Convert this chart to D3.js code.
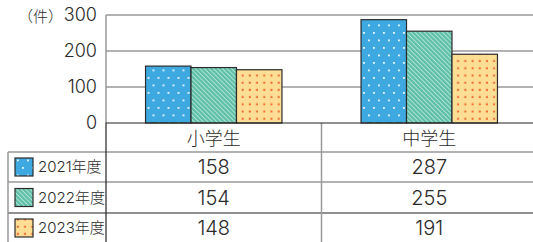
<!DOCTYPE html>
<html>
<head>
<meta charset="utf-8">
<script src="https://cdn.jsdelivr.net/npm/d3@7/dist/d3.min.js"></script>
<style>
body { margin: 0; background: #fff; }
svg { display: block; }
text { font-family: Inter, "Noto Sans CJK JP", sans-serif; font-weight: 300; fill: #2a2a2a; }
</style>
</head>
<body>
<svg width="533" height="242"></svg>
<script>
const categories = ["小学生", "中学生"];
const seriesNames = ["2021年度", "2022年度", "2023年度"];
const values2021 = [158, 287];
const values2022 = [154, 255];
const values2023 = [148, 191];
const yTicks = [0, 100, 200, 300];
const unitLabel = "（件）";

const seriesValues = [values2021, values2022, values2023];

const svg = d3.select("svg");
const width = 533;
const plotLeft = 106, plotTop = 15, plotBottom = 123;

const x = d3.scaleBand()
	.domain(categories)
	.range([plotLeft, 537])
	.paddingInner(0.367)
	.paddingOuter(0.1835);

const x1 = d3.scaleBand()
	.domain(seriesNames)
	.range([0, x.bandwidth()]);

const y = d3.scaleLinear()
	.domain([0, 300])
	.range([plotBottom, plotTop]);

// patterns
const defs = svg.append("defs");

const pBlue = defs.append("pattern")
	.attr("id", "p0")
	.attr("patternUnits", "userSpaceOnUse")
	.attr("width", 10).attr("height", 15);
pBlue.append("rect").attr("width", 10).attr("height", 15).attr("fill", "#3ea9e1");
pBlue.append("rect").attr("x", 2).attr("y", 2).attr("width", 1.8).attr("height", 1.8).attr("fill", "#eef8ff");
pBlue.append("rect").attr("x", 7).attr("y", 9.5).attr("width", 1.8).attr("height", 1.8).attr("fill", "#eef8ff");

const pGreen = defs.append("pattern")
	.attr("id", "p1")
	.attr("patternUnits", "userSpaceOnUse")
	.attr("width", 3.2).attr("height", 3.2)
	.attr("patternTransform", "rotate(45)");
pGreen.append("rect").attr("width", 3.2).attr("height", 3.2).attr("fill", "#5cbfa6");
pGreen.append("rect").attr("width", 3.2).attr("height", 1).attr("fill", "#b3e4d6");

const pOrange = defs.append("pattern")
	.attr("id", "p2")
	.attr("patternUnits", "userSpaceOnUse")
	.attr("width", 7.2).attr("height", 7.2);
pOrange.append("rect").attr("width", 7.2).attr("height", 7.2).attr("fill", "#fedd95");
pOrange.append("rect").attr("x", 2.5).attr("y", 2.5).attr("width", 2).attr("height", 2).attr("fill", "#f26b32");

// gridlines
svg.append("g")
	.selectAll("line")
	.data(yTicks.filter(d => d > 0))
	.join("line")
	.attr("x1", plotLeft).attr("x2", width)
	.attr("y1", d => y(d)).attr("y2", d => y(d))
	.attr("stroke", "#999")
	.attr("stroke-width", 1.5);

// left axis line (plot area)
svg.append("line")
	.attr("x1", plotLeft).attr("x2", plotLeft)
	.attr("y1", y(300)).attr("y2", y(0))
	.attr("stroke", "#999")
	.attr("stroke-width", 1.5);

// y tick labels
svg.append("g")
	.selectAll("text")
	.data(yTicks)
	.join("text")
	.attr("x", 97)
	.attr("y", d => y(d))
	.attr("dy", "0.36em")
	.attr("text-anchor", "end")
	.attr("font-size", 18)
	.text(d => d);

svg.append("text")
	.attr("x", 18)
	.attr("y", 17)
	.attr("dy", "0.36em")
	.attr("font-size", 15)
	.text(unitLabel);

// bars
const group = svg.append("g")
	.selectAll("g")
	.data(categories)
	.join("g")
	.attr("transform", d => `translate(${x(d)},0)`);

group.selectAll("rect")
	.data((c, i) => seriesNames.map((s, j) => ({ s, j, v: seriesValues[j][i] })))
	.join("rect")
	.attr("x", d => x1(d.s))
	.attr("y", d => y(d.v))
	.attr("width", x1.bandwidth())
	.attr("height", d => y(0) - y(d.v))
	.attr("fill", d => `url(#p${d.j})`)
	.attr("stroke", "#2b2b2b")
	.attr("stroke-width", 1.2);

// table
const rowTop = [123, 152, 182, 213, 243];
const divider = x(categories[1]) - x.step() * x.paddingInner() / 2;

const grid = svg.append("g");
grid.selectAll("line.row")
	.data([1, 2])
	.join("line")
	.attr("x1", 8).attr("x2", width)
	.attr("y1", i => rowTop[i]).attr("y2", i => rowTop[i])
	.attr("stroke", "#999").attr("stroke-width", 1.5);
grid.append("line")
	.attr("x1", 8).attr("x2", width)
	.attr("y1", rowTop[3]).attr("y2", rowTop[3])
	.attr("stroke", "#222").attr("stroke-width", 1.2);
grid.append("line")
	.attr("x1", 8).attr("x2", 8)
	.attr("y1", rowTop[1]).attr("y2", 242)
	.attr("stroke", "#999").attr("stroke-width", 1.5);
grid.append("line")
	.attr("x1", divider).attr("x2", divider)
	.attr("y1", rowTop[0]).attr("y2", 242)
	.attr("stroke", "#999").attr("stroke-width", 1.5);
grid.append("line")
	.attr("x1", plotLeft).attr("x2", plotLeft)
	.attr("y1", rowTop[0]).attr("y2", 242)
	.attr("stroke", "#222").attr("stroke-width", 1.2);
// baseline
grid.append("line")
	.attr("x1", plotLeft).attr("x2", width)
	.attr("y1", y(0)).attr("y2", y(0))
	.attr("stroke", "#222").attr("stroke-width", 1.2);

// header
svg.append("g")
	.selectAll("text")
	.data(categories)
	.join("text")
	.attr("x", d => x(d) + x.bandwidth() / 2)
	.attr("y", (rowTop[0] + rowTop[1]) / 2 + 1)
	.attr("dy", "0.36em")
	.attr("text-anchor", "middle")
	.attr("font-size", 18)
	.text(d => d);

// rows
seriesNames.forEach((s, j) => {
	const cy = (rowTop[j + 1] + rowTop[j + 2]) / 2;
	svg.append("rect")
		.attr("x", 15).attr("y", cy - 9)
		.attr("width", 18).attr("height", 18)
		.attr("fill", `url(#p${j})`)
		.attr("stroke", "#2b2b2b")
		.attr("stroke-width", 1.2);
	svg.append("text")
		.attr("x", 38).attr("y", cy)
		.attr("dy", "0.36em")
		.attr("font-size", 15)
		.text(s);
	svg.append("g")
		.selectAll("text")
		.data(categories)
		.join("text")
		.attr("x", d => x(d) + x.bandwidth() / 2)
		.attr("y", cy)
		.attr("dy", "0.36em")
		.attr("text-anchor", "middle")
		.attr("font-size", 20)
		.text((d, i) => seriesValues[j][i]);
});
</script>
</body>
</html>
